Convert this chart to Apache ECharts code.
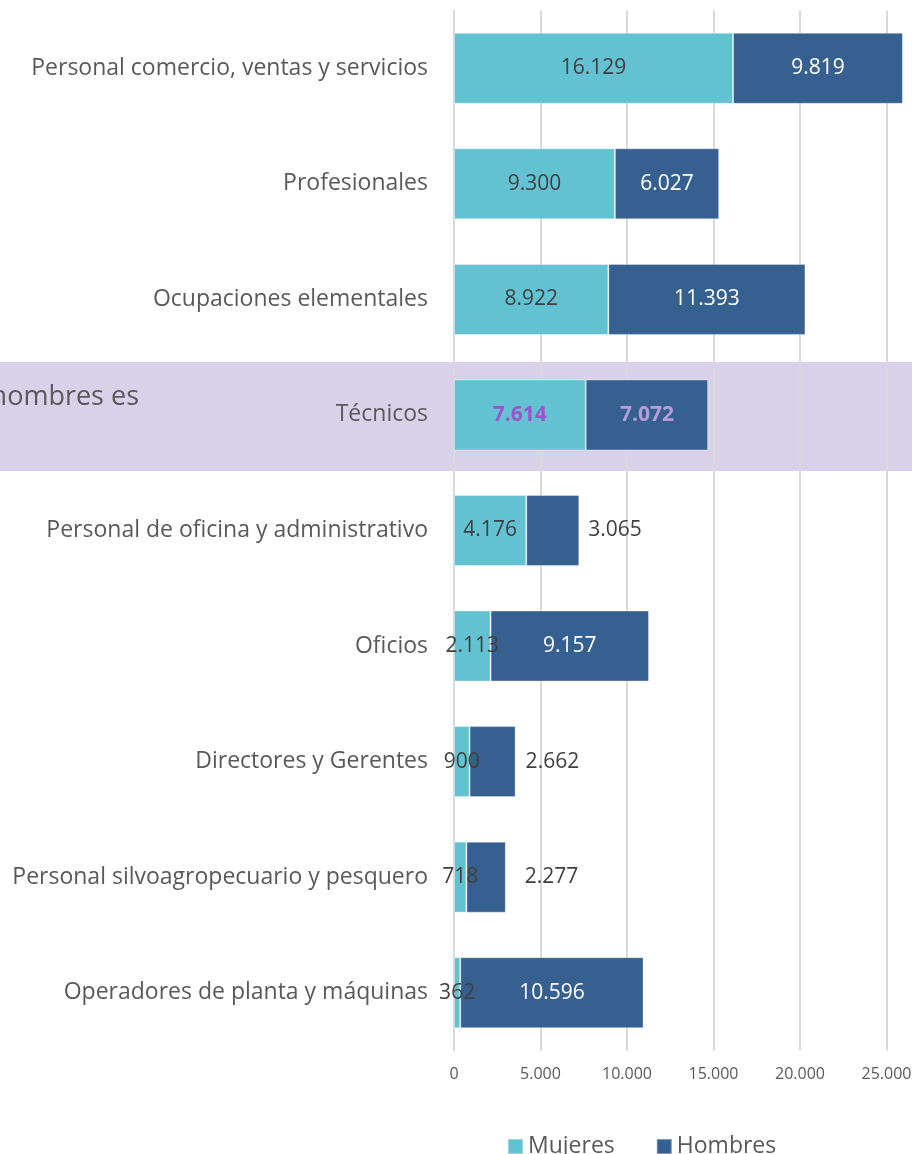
<!DOCTYPE html>
<html>
<head>
<meta charset="utf-8">
<script src="https://cdn.jsdelivr.net/npm/echarts@6/dist/echarts.min.js"></script>
<style>
  html, body { margin: 0; padding: 0; background: #fff; }
  #chart { width: 912px; height: 1154px; }
</style>
</head>
<body>
<div id="chart"></div>
<script>
// ocupaciones (de arriba hacia abajo)
const categorias = [
  'Personal comercio, ventas y servicios',
  'Profesionales',
  'Ocupaciones elementales',
  'Técnicos',
  'Personal de oficina y administrativo',
  'Oficios',
  'Directores y Gerentes',
  'Personal silvoagropecuario y pesquero',
  'Operadores de planta y máquinas'
]
const mujeres = [16129, 9300, 8922, 7614, 4176, 2113, 900, 718, 362]
const hombres = [9819, 6027, 11393, 7072, 3065, 9157, 2662, 2277, 10596]
const ticks = [0, 5000, 10000, 15000, 20000, 25000, 30000]

const textColor = '#595959'
const labelDark = '#404040'

// separador de miles con punto
function fmt (v) {
  return String(v).replace(/\B(?=(\d{3})+(?!\d))/g, '.')
}

// barras chicas de hombres: etiqueta a la derecha
const fueraDist = { 4: 9, 6: 10, 7: 19 }

const mujeresData = mujeres.map((v, i) => {
  let item = { value: v }
  if (categorias[i] === 'Técnicos') {
    item.label = { color: '#9E52CC', fontWeight: 'bold' }
  }
  return item
})

const hombresData = hombres.map((v, i) => {
  let item = { value: v }
  if (categorias[i] === 'Técnicos') {
    item.label = { color: '#B79CDC', fontWeight: 'bold' }
  } else if (fueraDist[i] !== undefined) {
    item.label = { position: 'right', distance: fueraDist[i], color: labelDark }
  }
  return item
})

const chart = echarts.init(document.getElementById('chart'))
const option = {
  animation: false,
  textStyle: { fontFamily: 'Open Sans' },
  graphic: [
    {
      type: 'rect',
      z: -100,
      silent: true,
      shape: { x: 0, y: 362, width: 912, height: 109 },
      style: { fill: '#D9D1EA' }
    },
    {
      type: 'text',
      z: 100,
      silent: true,
      style: {
        x: 139,
        y: 397,
        text: 'La brecha entre mujeres y hombres es',
        align: 'right',
        verticalAlign: 'middle',
        fontFamily: 'Open Sans',
        fontSize: 27,
        fill: textColor
      }
    }
  ],
  grid: {
    left: 454,
    top: 10.5,
    height: 1040,
    width: 519,
    outerBoundsMode: 'none'
  },
  legend: {
    data: ['Mujeres', 'Hombres'],
    left: 502,
    top: 1130,
    icon: 'rect',
    itemWidth: 15,
    itemHeight: 15,
    itemGap: 41,
    textStyle: { fontSize: 23, color: textColor, fontFamily: 'Open Sans' }
  },
  xAxis: {
    type: 'value',
    min: ticks[0],
    max: ticks[ticks.length - 1],
    interval: 5000,
    axisLine: { show: false },
    axisTick: { show: false },
    splitLine: { lineStyle: { color: '#D9D9D9', width: 2 } },
    axisLabel: {
      color: textColor,
      fontSize: 16,
      margin: 16,
      formatter: v => fmt(v)
    }
  },
  yAxis: {
    type: 'category',
    data: categorias,
    inverse: true,
    axisLine: { show: true, lineStyle: { color: '#D9D9D9', width: 2 } },
    axisTick: { show: false },
    axisLabel: {
      color: textColor,
      fontSize: 23,
      margin: 26
    }
  },
  series: [
    {
      name: 'Mujeres',
      type: 'bar',
      stack: 'total',
      barWidth: 71,
      data: mujeresData,
      itemStyle: { color: '#62C2D2', borderColor: 'rgba(255,255,255,0.35)', borderWidth: 1 },
      label: {
        show: true,
        position: 'inside',
        color: labelDark,
        fontSize: 21,
        fontFamily: 'Open Sans',
        formatter: p => fmt(p.value)
      }
    },
    {
      name: 'Hombres',
      type: 'bar',
      stack: 'total',
      barWidth: 71,
      data: hombresData,
      itemStyle: { color: '#366090', borderColor: 'rgba(255,255,255,0.35)', borderWidth: 1 },
      label: {
        show: true,
        position: 'inside',
        color: '#ffffff',
        fontSize: 21,
        fontFamily: 'Open Sans',
        formatter: p => fmt(p.value)
      }
    }
  ]
}
chart.setOption(option)
</script>
</body>
</html>
